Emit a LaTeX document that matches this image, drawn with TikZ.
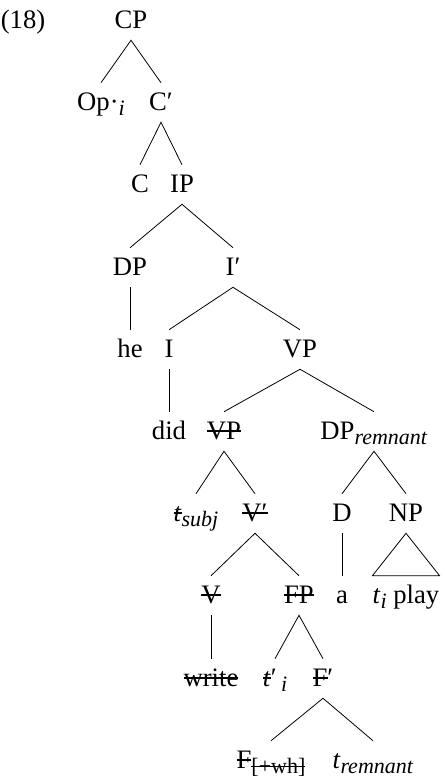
\documentclass[tikz,border=0pt]{standalone}
\usepackage{fontspec}
\setmainfont{Liberation Serif}
\newcommand{\ti}[1]{\textit{#1}}
\newcommand{\strk}[1]{\begingroup\setbox0=\hbox{#1}\rlap{\rule[0.28em]{\wd0}{0.045em}}\box0\endgroup}
\newcommand{\sub}[1]{\raisebox{-0.2em}{\fontsize{16.5}{18}\selectfont #1}}
\begin{document}
\begin{tikzpicture}[x=0.75pt,y=-0.75pt,
  tn/.style={inner sep=0pt, anchor=base, text height=20.25pt, text depth=9pt, font=\fontsize{20}{24}\selectfont},
  br/.style={line width=0.6pt}]
\useasboundingbox (0,0) rectangle (444,778);
% levels
\node[tn] (ex) at (23,28) {(18)};
\node[tn] (CP) at (131,28) {CP};
\node[tn] (Op) at (101,110) {Op·\sub{\ti{i}}};
\node[tn] (Cb) at (161,110) {C′};
\node[tn] (C) at (140,192) {C};
\node[tn] (IP) at (182,192) {IP};
\node[tn] (DP) at (130,275) {DP};
\node[tn] (Ib) at (233,275) {I′};
\node[tn] (he) at (130,357) {he};
\node[tn] (I) at (169,357) {I};
\node[tn] (VP) at (300,357) {VP};
\node[tn] (did) at (169,439) {did};
\node[tn] (VPs) at (224,439) {\strk{VP}};
\node[tn] (DPr) at (374,439) {DP\sub{\ti{remnant}}};
\node[tn] (ts) at (196,521) {\strk{\ti{t}}\sub{\ti{subj}}};
\node[tn] (Vb) at (255,521) {\strk{V′}};
\node[tn] (D) at (342,521) {D};
\node[tn] (NP) at (406,521) {NP};
\node[tn] (V) at (211,603) {\strk{V}};
\node[tn] (FP) at (299,603) {\strk{FP}};
\node[tn] (a) at (342,603) {a};
\node[tn] (tp) at (406,603) {\ti{t}\sub{\ti{i}} play};
\node[tn] (wr) at (211,686) {\strk{write}};
\node[tn] (tpr) at (275,686) {\strk{\ti{t}}′\,\sub{\ti{i}}};
\node[tn] (Fb) at (323,686) {\strk{F}′};
\node[tn] (F) at (271,768) {\strk{F}\sub{\strk{[+wh]}}};
\node[tn] (tr) at (373,768) {\ti{t}\sub{\ti{remnant}}};
% branches
\draw[br] (Op.north) -- (CP.south) -- (Cb.north);
\draw[br] (C.north) -- (Cb.south) -- (IP.north);
\draw[br] (DP.north) -- (IP.south) -- (Ib.north);
\draw[br] (DP.south) -- (he.north);
\draw[br] (I.north) -- (Ib.south) -- (VP.north);
\draw[br] (I.south) -- (did.north);
\draw[br] (VPs.north) -- (VP.south) -- (DPr.north);
\draw[br] (ts.north) -- (VPs.south) -- (Vb.north);
\draw[br] (D.north) -- (DPr.south) -- (NP.north);
\draw[br] (V.north) -- (Vb.south) -- (FP.north);
\draw[br] (D.south) -- (a.north);
\draw[br] (NP.south) -- (tp.north west) -- (tp.north east) -- cycle;
\draw[br] (V.south) -- (wr.north);
\draw[br] (tpr.north) -- (FP.south) -- (Fb.north);
\draw[br] (F.north) -- (Fb.south) -- (tr.north);
\end{tikzpicture}
\end{document}
